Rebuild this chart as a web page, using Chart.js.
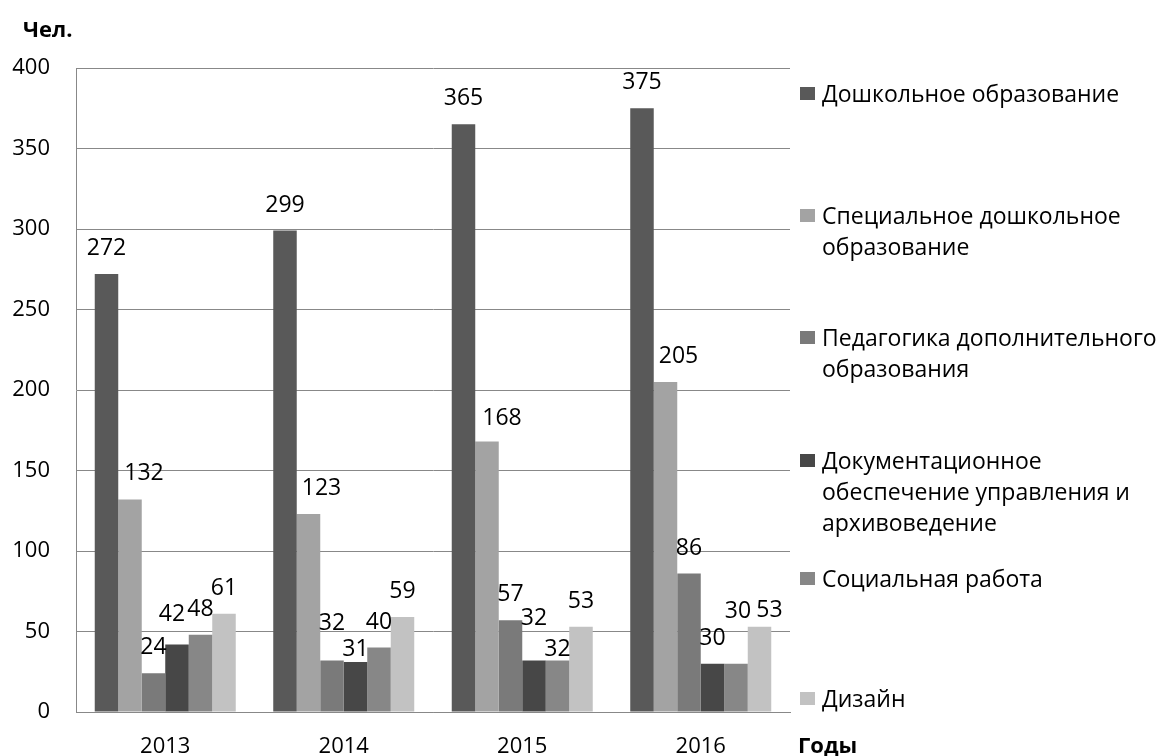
<!DOCTYPE html>
<html lang="ru">
<head>
<meta charset="UTF-8">
<title>Чел. по годам</title>
<script src="https://cdn.jsdelivr.net/npm/chart.js"></script>
<style>
    body {
        margin: 0;
        padding: 0;
        background: #ffffff;
        font-family: "Open Sans", sans-serif;
    }
    .wrap {
        position: relative;
        width: 1159px;
        height: 756px;
        overflow: hidden;
    }
    canvas {
        position: absolute;
        left: 0;
        top: 0;
    }
    .axis-note {
        position: absolute;
        font-weight: bold;
        font-size: 22px;
        color: #000;
        line-height: 1;
    }
    .legend-item {
        position: absolute;
        left: 800px;
        font-size: 23px;
        line-height: 31px;
        color: #000;
        white-space: pre-line;
    }
    .legend-item .box {
        position: absolute;
        left: 0;
        top: 9px;
        width: 15px;
        height: 13px;
    }
    .legend-item .txt {
        margin-left: 22px;
    }
</style>
</head>
<body>
<div class="wrap">
    <canvas id="chart" width="1159" height="756"></canvas>
    <div class="axis-note" style="left:23px; top:17px;">Чел.</div>
    <div class="axis-note" style="left:798px; top:733px;">Годы</div>
    <div id="legend"></div>
</div>

<script>
var years = ['2013', '2014', '2015', '2016'];

var seriesNames = [
    'Дошкольное образование',
    'Специальное дошкольное\nобразование',
    'Педагогика дополнительного\nобразования',
    'Документационное\nобеспечение управления и\nархивоведение',
    'Социальная работа',
    'Дизайн'
];

var preschool   = [272, 299, 365, 375];
var specialPre  = [132, 123, 168, 205];
var pedagogy    = [24, 32, 57, 86];
var documents   = [42, 31, 32, 30];
var socialWork  = [48, 40, 32, 30];
var design      = [61, 59, 53, 53];

var yTicks = [0, 50, 100, 150, 200, 250, 300, 350, 400];

var colors = ['#595959', '#a3a3a3', '#7a7a7a', '#474747', '#878787', '#c2c2c2'];

// small nudges of value labels, as in the original (px)
var labelDx = [
    [0, 0, 0, 0],
    [14, 13, 15, 13],
    [0, 0, 0, 0],
    [-5, 0, 0, 0],
    [0, 0, 0, 2],
    [0, 0, 0, 10]
];
var labelDy = [
    [0, 0, 0, 0],
    [0, 0, 2, 0],
    [0, -11, 0, 0],
    [-4, 13, -16, 0],
    [0, 0, 15, -27],
    [0, 0, 0, 9]
];

var allSeries = [preschool, specialPre, pedagogy, documents, socialWork, design];

// legend in html, top of each item
var legendTops = [78, 200, 322, 445, 563, 683];
var legendBox = document.getElementById('legend');
for (var i = 0; i < seriesNames.length; i++) {
    var item = document.createElement('div');
    item.className = 'legend-item';
    item.style.top = legendTops[i] + 'px';
    var sq = document.createElement('span');
    sq.className = 'box';
    sq.style.background = colors[i];
    var tx = document.createElement('div');
    tx.className = 'txt';
    tx.textContent = seriesNames[i];
    item.appendChild(sq);
    item.appendChild(tx);
    legendBox.appendChild(item);
}

var valueLabels = {
    id: 'valueLabels',
    afterDatasetsDraw: function(chart) {
        var ctx = chart.ctx;
        ctx.save();
        ctx.font = '23px "Open Sans"';
        ctx.fillStyle = '#000';
        ctx.textAlign = 'center';
        ctx.textBaseline = 'alphabetic';
        chart.data.datasets.forEach(function(ds, di) {
            var meta = chart.getDatasetMeta(di);
            meta.data.forEach(function(bar, j) {
                ctx.fillText(String(ds.data[j]), bar.x + labelDx[di][j], bar.y - 19 + labelDy[di][j]);
            });
        });
        ctx.restore();
    }
};

var datasets = [];
for (var k = 0; k < allSeries.length; k++) {
    datasets.push({
        label: seriesNames[k],
        data: allSeries[k],
        backgroundColor: colors[k],
        borderWidth: 0
    });
}

new Chart(document.getElementById('chart').getContext('2d'), {
    type: 'bar',
    data: { labels: years, datasets: datasets },
    plugins: [valueLabels],
    options: {
        responsive: false,
        animation: false,
        categoryPercentage: 0.79,
        barPercentage: 1.0,
        layout: { padding: { left: 0, top: 68, right: 369, bottom: 0 } },
        plugins: {
            legend: { display: false },
            tooltip: { enabled: false }
        },
        scales: {
            x: {
                grid: { display: false },
                border: { display: true, color: '#888888', width: 1 },
                ticks: { color: '#000', font: { family: 'Open Sans', size: 22 }, padding: 14 },
                afterFit: function(scale) { scale.height = 44; }
            },
            y: {
                min: 0,
                max: 400,
                afterBuildTicks: function(scale) {
                    scale.ticks = yTicks.map(function(v) { return { value: v }; });
                },
                grid: { color: '#888888', lineWidth: 1, drawTicks: false },
                border: { display: true, color: '#888888', width: 1 },
                ticks: { color: '#000', font: { family: 'Open Sans', size: 22 }, padding: 26 },
                afterFit: function(scale) { scale.width = 76; }
            }
        }
    }
});
</script>
</body>
</html>
